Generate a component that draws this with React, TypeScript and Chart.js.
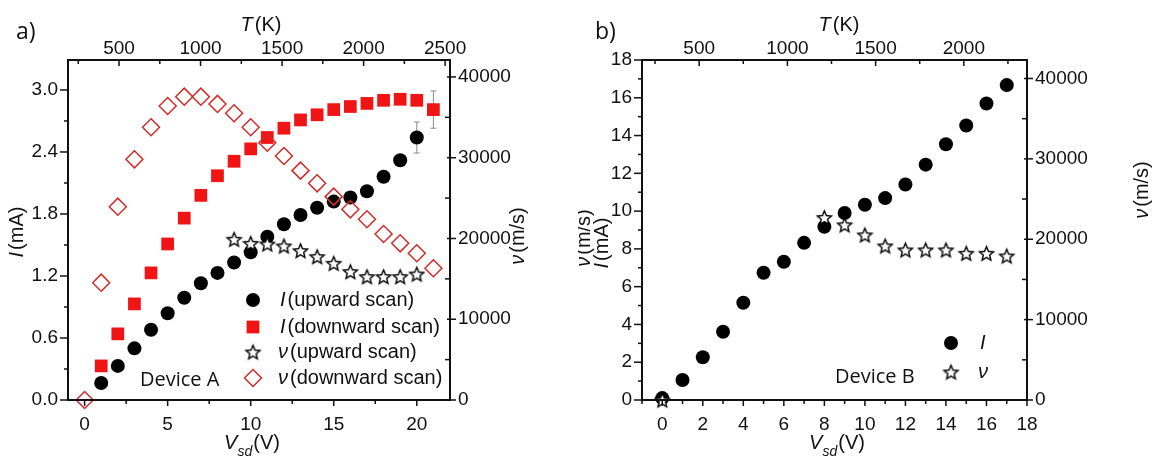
import React, { useEffect, useRef } from 'react';
import { Chart, registerables } from 'chart.js';

Chart.register(...registerables);

// ---------- Panel a data (Device A) ----------
const aVsdIUp = [1, 2, 3, 4, 5, 6, 7, 8, 9, 10, 11, 12, 13, 14, 15, 16, 17, 18, 19, 20];
const aIUp = [0.165, 0.33, 0.5, 0.68, 0.84, 0.99, 1.13, 1.23, 1.33, 1.43, 1.58, 1.7, 1.79, 1.86, 1.92, 1.96, 2.02, 2.16, 2.32, 2.54];
const aIUpErr = [0, 0, 0, 0, 0, 0, 0, 0, 0, 0, 0, 0, 0, 0, 0, 0, 0, 0.03, 0.04, 0.15];

const aVsdIDown = [1, 2, 3, 4, 5, 6, 7, 8, 9, 10, 11, 12, 13, 14, 15, 16, 17, 18, 19, 20, 21];
const aIDown = [0.33, 0.64, 0.93, 1.23, 1.51, 1.76, 1.98, 2.17, 2.31, 2.43, 2.54, 2.63, 2.71, 2.76, 2.81, 2.84, 2.87, 2.9, 2.91, 2.9, 2.81];
const aIDownErr = [0, 0, 0, 0, 0, 0, 0, 0, 0, 0, 0, 0, 0, 0, 0, 0, 0, 0, 0, 0.02, 0.18];

const aVsdVUp = [9, 10, 11, 12, 13, 14, 15, 16, 17, 18, 19, 20];
const aVUp = [19900, 19400, 19320, 19070, 18490, 17750, 16930, 15890, 15270, 15270, 15270, 15600];

const aVsdVDown = [0, 1, 2, 3, 4, 5, 6, 7, 8, 9, 10, 11, 12, 13, 14, 15, 16, 17, 18, 19, 20, 21];
const aVDown = [0, 14530, 23940, 29800, 33770, 36400, 37560, 37560, 36660, 35500, 33770, 31860, 30220, 28400, 26830, 25180, 23610, 22380, 20560, 19400, 18170, 16310];

// ---------- Panel b data (Device B) ----------
const bVsdI = [0, 1, 2, 3, 4, 5, 6, 7, 8, 9, 10, 11, 12, 13, 14, 15, 16, 17];
const bI = [0.1, 1.06, 2.26, 3.61, 5.15, 6.74, 7.32, 8.32, 9.17, 9.9, 10.34, 10.69, 11.41, 12.46, 13.54, 14.53, 15.7, 16.67];

const bVsdV = [0, 8, 9, 10, 11, 12, 13, 14, 15, 16, 17];
const bV = [0, 22700, 21790, 20540, 19170, 18670, 18670, 18670, 18250, 18250, 17920];

// ---------- Axis ranges / tick labels ----------
const aX = { min: -1, max: 22, minor: 2.5, ticks: [0, 5, 10, 15, 20] };
const aY = { min: 0, max: 3.29, minor: 0.3, ticks: [0, 0.6, 1.2, 1.8, 2.4, 3.0] };
const aY2 = { min: 0, max: 42100, minor: 5000, ticks: [0, 10000, 20000, 30000, 40000] };
const aT = { min: 187, max: 2530, minor: 250, ticks: [500, 1000, 1500, 2000, 2500] };

const bX = { min: -1, max: 18, minor: 1, ticks: [0, 2, 4, 6, 8, 10, 12, 14, 16, 18] };
const bY = { min: 0, max: 18, minor: 1, ticks: [0, 2, 4, 6, 8, 10, 12, 14, 16, 18] };
const bY2 = { min: 0, max: 42300, minor: 5000, ticks: [0, 10000, 20000, 30000, 40000] };
const bT = { min: 176, max: 2358, minor: 250, ticks: [500, 1000, 1500, 2000] };

const SANS = '"Liberation Sans", Arial, sans-serif';
const CAL = '"Open Sans", "Noto Sans", sans-serif';
const RED = '#f01414';
const DRED = '#d42a2a';

type Part = { t: string; it?: boolean; sz?: number; dy?: number; gap?: number; fam?: string };
type Rng = { min: number; max: number; minor: number; ticks: number[] };

function fontOf(p: Part, def: number) {
  return `${p.it ? 'italic ' : ''}${p.sz || def}px ${p.fam || SANS}`;
}

function drawRich(ctx: CanvasRenderingContext2D, parts: Part[], x: number, y: number, rot: number, align: 'center' | 'left', size = 20) {
  ctx.save();
  ctx.translate(x, y);
  ctx.rotate(rot);
  ctx.fillStyle = '#111';
  ctx.textBaseline = 'middle';
  ctx.textAlign = 'left';
  const widths = parts.map((p) => {
    ctx.font = fontOf(p, size);
    return ctx.measureText(p.t).width + (p.gap || 0);
  });
  const total = widths.reduce((s, w) => s + w, 0);
  let cx = align === 'center' ? -total / 2 : 0;
  parts.forEach((p, i) => {
    ctx.font = fontOf(p, size);
    ctx.fillText(p.t, cx, p.dy || 0);
    cx += widths[i];
  });
  ctx.restore();
}

function makeStar(outer: number) {
  const size = Math.ceil(outer * 2 + 4);
  const c = document.createElement('canvas');
  c.width = size;
  c.height = size;
  const ctx = c.getContext('2d')!;
  const cx = size / 2;
  const cy = size / 2 + outer * 0.1;
  const inner = outer * 0.45;
  ctx.beginPath();
  for (let i = 0; i < 10; i++) {
    const r = i % 2 === 0 ? outer : inner;
    const a = -Math.PI / 2 + (i * Math.PI) / 5;
    const px = cx + r * Math.cos(a);
    const py = cy + r * Math.sin(a);
    if (i === 0) ctx.moveTo(px, py);
    else ctx.lineTo(px, py);
  }
  ctx.closePath();
  ctx.fillStyle = '#fff';
  ctx.fill();
  ctx.strokeStyle = '#000';
  ctx.lineWidth = 1.4;
  ctx.stroke();
  return c;
}

function drawTicks(chart: any, id: string, r: Rng, side: string) {
  const { ctx, chartArea: ca } = chart;
  const sc = chart.scales[id];
  const n0 = Math.ceil(r.min / r.minor - 1e-9);
  const n1 = Math.floor(r.max / r.minor + 1e-9);
  ctx.save();
  ctx.strokeStyle = '#111';
  ctx.lineWidth = 1.5;
  for (let n = n0; n <= n1; n++) {
    const v = n * r.minor;
    const major = r.ticks.some((t) => Math.abs(t - v) < r.minor * 1e-3) || n % 2 === 0;
    const p = sc.getPixelForValue(v);
    ctx.beginPath();
    if (side === 'left') {
      ctx.moveTo(ca.left - (major ? 8 : 4), p);
      ctx.lineTo(ca.left, p);
    } else if (side === 'right') {
      if (major) {
        ctx.moveTo(ca.right - 3, p);
        ctx.lineTo(ca.right + 6, p);
      } else {
        ctx.moveTo(ca.right - 5, p);
        ctx.lineTo(ca.right, p);
      }
    } else if (side === 'bottom') {
      ctx.moveTo(p, ca.bottom);
      ctx.lineTo(p, ca.bottom + (major ? 6 : 4));
    } else {
      ctx.moveTo(p, ca.top - 1);
      ctx.lineTo(p, ca.top + (major ? 6 : 4));
    }
    ctx.stroke();
  }
  ctx.restore();
}

function drawErr(chart: any, xs: number[], ys: number[], es: number[], yId: string) {
  const { ctx } = chart;
  const sx = chart.scales.x;
  const sy = chart.scales[yId];
  ctx.save();
  ctx.strokeStyle = '#8a8a8a';
  ctx.lineWidth = 1;
  xs.forEach((xv, i) => {
    if (!es[i]) return;
    const px = sx.getPixelForValue(xv);
    const p1 = sy.getPixelForValue(ys[i] + es[i]);
    const p2 = sy.getPixelForValue(ys[i] - es[i]);
    ctx.beginPath();
    ctx.moveTo(px, p1);
    ctx.lineTo(px, p2);
    ctx.moveTo(px - 3, p1);
    ctx.lineTo(px + 3, p1);
    ctx.moveTo(px - 3, p2);
    ctx.lineTo(px + 3, p2);
    ctx.stroke();
  });
  ctx.restore();
}

function symCircle(ctx: CanvasRenderingContext2D, x: number, y: number) {
  ctx.save();
  ctx.fillStyle = '#000';
  ctx.beginPath();
  ctx.arc(x, y, 7, 0, Math.PI * 2);
  ctx.fill();
  ctx.restore();
}
function symSquare(ctx: CanvasRenderingContext2D, x: number, y: number) {
  ctx.save();
  ctx.fillStyle = RED;
  ctx.fillRect(x - 6.4, y - 6.4, 12.8, 12.8);
  ctx.restore();
}
function symDiamond(ctx: CanvasRenderingContext2D, x: number, y: number) {
  ctx.save();
  ctx.strokeStyle = DRED;
  ctx.lineWidth = 1.5;
  ctx.beginPath();
  ctx.moveTo(x, y - 8.5);
  ctx.lineTo(x + 8.5, y);
  ctx.lineTo(x, y + 8.5);
  ctx.lineTo(x - 8.5, y);
  ctx.closePath();
  ctx.stroke();
  ctx.restore();
}

function pts(xs: number[], ys: number[]) {
  return xs.map((x, i) => ({ x, y: ys[i] }));
}

function scaleOpts(r: Rng, position: string, size: number, pad: number, fmt: (v: number) => string, horizontal: boolean) {
  return {
    type: 'linear',
    position,
    min: r.min,
    max: r.max,
    grid: { display: false, drawTicks: false },
    border: { display: false },
    ticks: {
      autoSkip: false,
      maxRotation: 0,
      minRotation: 0,
      padding: pad,
      color: '#111',
      font: { family: SANS, size: 19 },
      callback: (v: any) => fmt(Number(v)),
    },
    afterBuildTicks: (s: any) => {
      s.ticks = r.ticks.map((v) => ({ value: v }));
    },
    afterFit: (s: any) => {
      if (horizontal) s.height = size;
      else s.width = size;
    },
  };
}

const f0 = (v: number) => String(Math.round(v));
const f1 = (v: number) => v.toFixed(1);

function PanelA() {
  const ref = useRef<HTMLCanvasElement>(null);
  useEffect(() => {
    const OX = 0;
    const star = makeStar(7.4);
    const plugin = {
      id: 'panelA',
      beforeDatasetsDraw(chart: any) {
        drawErr(chart, aVsdIUp, aIUp, aIUpErr, 'y');
        drawErr(chart, aVsdIDown, aIDown, aIDownErr, 'y');
      },
      afterDraw(chart: any) {
        const { ctx, chartArea: ca } = chart;
        ctx.save();
        ctx.strokeStyle = '#111';
        ctx.lineWidth = 2;
        ctx.strokeRect(ca.left, ca.top, ca.right - ca.left, ca.bottom - ca.top);
        ctx.restore();
        drawTicks(chart, 'x', aX, 'bottom');
        drawTicks(chart, 'xT', aT, 'top');
        drawTicks(chart, 'y', aY, 'left');
        drawTicks(chart, 'y2', aY2, 'right');
        drawRich(ctx, [{ t: 'a)', fam: CAL, sz: 23 }], 16 - OX, 32, 0, 'left');
        drawRich(ctx, [{ t: 'T', it: true, gap: 2 }, { t: '(K)' }], 261 - OX, 25, 0, 'center');
        drawRich(ctx, [{ t: 'V', it: true }, { t: 'sd', it: true, sz: 14, dy: 9, gap: 1 }, { t: '(V)' }], 252 - OX, 443, 0, 'center');
        drawRich(ctx, [{ t: 'I', it: true, gap: 2 }, { t: '(mA)' }], 17 - OX, 232, -Math.PI / 2, 'center');
        drawRich(ctx, [{ t: 'ν', it: true, gap: 2 }, { t: '(m/s)' }], 518 - OX, 236, -Math.PI / 2, 'center');
        const lx = 253 - OX;
        symCircle(ctx, lx, 300);
        symSquare(ctx, lx, 327);
        ctx.drawImage(star, lx - star.width / 2, 352 - star.height / 2);
        symDiamond(ctx, lx, 378);
        drawRich(ctx, [{ t: 'I', it: true, gap: 2 }, { t: '(upward scan)' }], 280 - OX, 300, 0, 'left');
        drawRich(ctx, [{ t: 'I', it: true, gap: 2 }, { t: '(downward scan)' }], 280 - OX, 327, 0, 'left');
        drawRich(ctx, [{ t: 'ν', it: true, gap: 2 }, { t: '(upward scan)' }], 278 - OX, 352, 0, 'left');
        drawRich(ctx, [{ t: 'ν', it: true, gap: 2 }, { t: '(downward scan)' }], 278 - OX, 378, 0, 'left');
        drawRich(ctx, [{ t: 'Device A', fam: CAL }], 140 - OX, 380, 0, 'left');
      },
    };
    const chart = new Chart(ref.current!, {
      type: 'scatter',
      data: {
        datasets: [
          { label: 'ν (upward scan)', data: pts(aVsdVUp, aVUp), yAxisID: 'y2', pointStyle: star as any, pointRadius: 7, order: 0, clip: false as any },
          { label: 'ν (downward scan)', data: pts(aVsdVDown, aVDown), yAxisID: 'y2', pointStyle: 'rectRot', pointRadius: 8.5, backgroundColor: 'rgba(0,0,0,0)', borderColor: DRED, pointBorderWidth: 1.5, order: 1, clip: false as any },
          { label: 'I (downward scan)', data: pts(aVsdIDown, aIDown), yAxisID: 'y', pointStyle: 'rect', pointRadius: 9, backgroundColor: RED, borderColor: RED, pointBorderWidth: 0, order: 2, clip: false as any },
          { label: 'I (upward scan)', data: pts(aVsdIUp, aIUp), yAxisID: 'y', pointStyle: 'circle', pointRadius: 7, backgroundColor: '#000', borderColor: '#000', pointBorderWidth: 0, order: 3, clip: false as any },
        ],
      },
      options: {
        responsive: false,
        animation: false,
        devicePixelRatio: 1,
        events: [],
        layout: { padding: 0 },
        plugins: { legend: { display: false }, tooltip: { enabled: false } },
        scales: {
          x: scaleOpts(aX, 'bottom', 60, 13, f0, true) as any,
          xT: scaleOpts(aT, 'top', 60, 0, f0, true) as any,
          y: scaleOpts(aY, 'left', 68, 10, f1, false) as any,
          y2: scaleOpts(aY2, 'right', 128, 8, f0, false) as any,
        },
      },
      plugins: [plugin],
    } as any);
    return () => chart.destroy();
  }, []);
  return <canvas ref={ref} width={578} height={460} style={{ position: 'absolute', left: 0, top: 0, width: 578, height: 460 }} />;
}

function PanelB() {
  const ref = useRef<HTMLCanvasElement>(null);
  useEffect(() => {
    const OX = 578;
    const star = makeStar(7.4);
    const plugin = {
      id: 'panelB',
      afterDraw(chart: any) {
        const { ctx, chartArea: ca } = chart;
        ctx.save();
        ctx.strokeStyle = '#111';
        ctx.lineWidth = 2;
        ctx.strokeRect(ca.left, ca.top, ca.right - ca.left, ca.bottom - ca.top);
        ctx.restore();
        drawTicks(chart, 'x', bX, 'bottom');
        drawTicks(chart, 'xT', bT, 'top');
        drawTicks(chart, 'y', bY, 'left');
        drawTicks(chart, 'y2', bY2, 'right');
        drawRich(ctx, [{ t: 'b)', fam: CAL, sz: 23 }], 595 - OX, 32, 0, 'left');
        drawRich(ctx, [{ t: 'T', it: true, gap: 2 }, { t: '(K)' }], 839 - OX, 25, 0, 'center');
        drawRich(ctx, [{ t: 'V', it: true }, { t: 'sd', it: true, sz: 14, dy: 9, gap: 1 }, { t: '(V)' }], 837 - OX, 443, 0, 'center');
        drawRich(ctx, [{ t: 'ν', it: true, gap: 2 }, { t: '(m/s)' }], 584 - OX, 238, -Math.PI / 2, 'center');
        drawRich(ctx, [{ t: 'I', it: true, gap: 2 }, { t: '(mA)' }], 602 - OX, 243, -Math.PI / 2, 'center');
        drawRich(ctx, [{ t: 'ν', it: true, gap: 2 }, { t: '(m/s)' }], 1142 - OX, 190, -Math.PI / 2, 'center');
        const lx = 951 - OX;
        symCircle(ctx, lx, 343);
        ctx.drawImage(star, lx - star.width / 2, 372 - star.height / 2);
        drawRich(ctx, [{ t: 'I', it: true }], 980 - OX, 343, 0, 'left');
        drawRich(ctx, [{ t: 'ν', it: true }], 978 - OX, 372, 0, 'left');
        drawRich(ctx, [{ t: 'Device B', fam: CAL }], 835 - OX, 377, 0, 'left');
      },
    };
    const chart = new Chart(ref.current!, {
      type: 'scatter',
      data: {
        datasets: [
          { label: 'ν', data: pts(bVsdV, bV), yAxisID: 'y2', pointStyle: star as any, pointRadius: 7, order: 0, clip: false as any },
          { label: 'I', data: pts(bVsdI, bI), yAxisID: 'y', pointStyle: 'circle', pointRadius: 7, backgroundColor: '#000', borderColor: '#000', pointBorderWidth: 0, order: 1, clip: false as any },
        ],
      },
      options: {
        responsive: false,
        animation: false,
        devicePixelRatio: 1,
        events: [],
        layout: { padding: 0 },
        plugins: { legend: { display: false }, tooltip: { enabled: false } },
        scales: {
          x: scaleOpts(bX, 'bottom', 60, 13, f0, true) as any,
          xT: scaleOpts(bT, 'top', 60, 0, f0, true) as any,
          y: scaleOpts(bY, 'left', 64, 10, f0, false) as any,
          y2: scaleOpts(bY2, 'right', 129, 8, f0, false) as any,
        },
      },
      plugins: [plugin],
    } as any);
    return () => chart.destroy();
  }, []);
  return <canvas ref={ref} width={578} height={460} style={{ position: 'absolute', left: 578, top: 0, width: 578, height: 460 }} />;
}

export default function App() {
  return (
    <div style={{ position: 'absolute', left: 0, top: 0, width: 1156, height: 460, background: '#fff', overflow: 'hidden' }}>
      <PanelA />
      <PanelB />
    </div>
  );
}
